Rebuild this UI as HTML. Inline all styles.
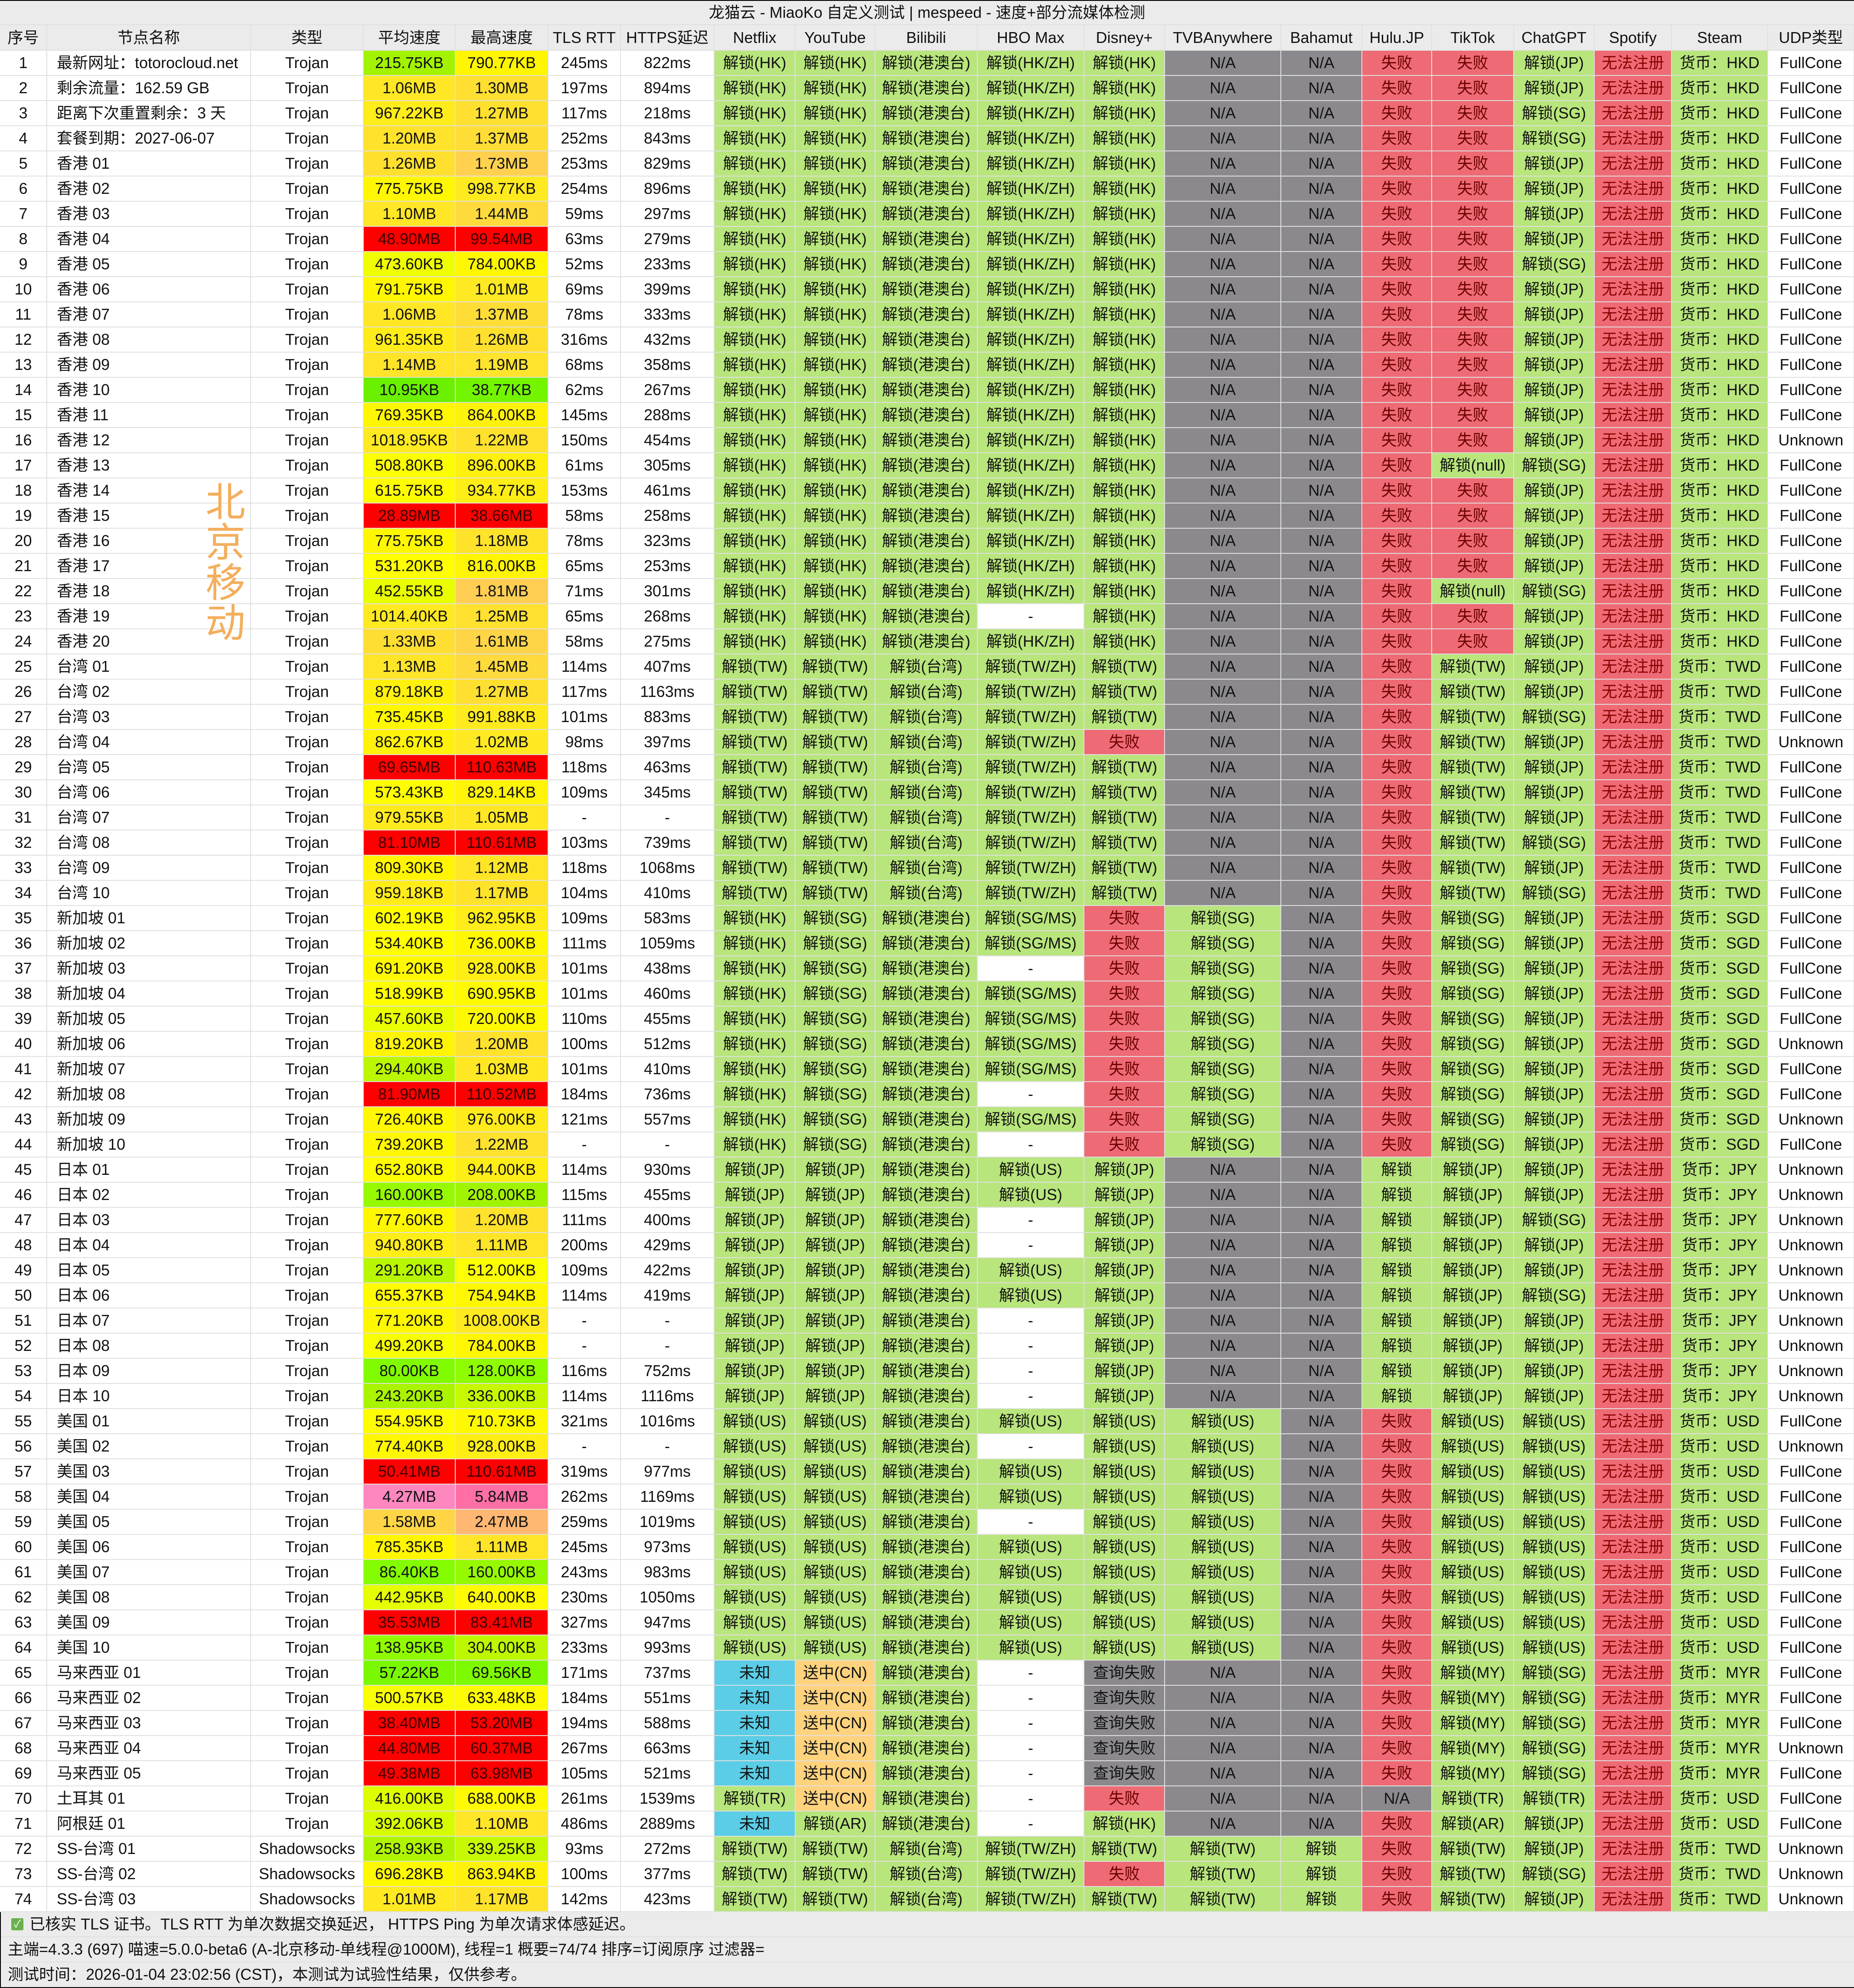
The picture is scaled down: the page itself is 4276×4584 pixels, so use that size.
<!DOCTYPE html>
<html><head><meta charset="utf-8">
<style>
html,body{margin:0;padding:0;}
body{width:4276px;height:4584px;position:relative;overflow:hidden;background:#e0e0e0;font-family:"Liberation Sans","Noto Sans CJK SC",sans-serif;color:#111;}
.c{position:absolute;display:flex;align-items:center;justify-content:center;font-size:36px;line-height:1;white-space:nowrap;overflow:hidden;box-sizing:border-box;}
.l{justify-content:flex-start;padding-left:22px;}
#title,.hdr{background:#ebebeb;}
.foot{position:absolute;left:0;width:4276px;background:#ebebeb;font-size:36px;line-height:1;display:flex;align-items:center;padding-left:18px;box-sizing:border-box;white-space:nowrap;}
#wm{position:absolute;left:474px;top:1104px;width:92px;font-size:92px;line-height:93px;color:#f3ae5c;text-align:center;font-family:"Noto Sans CJK SC",sans-serif;}
</style></head>
<body>
<div id="title" class="c" style="left:0;top:2px;width:4276px;height:54px;">龙猫云 - MiaoKo 自定义测试 | mespeed - 速度+部分流媒体检测</div>
<div id="grid"></div>
<div id="wm">北<br>京<br>移<br>动</div>
<div class="foot" style="top:4409px;height:56px;"><span style="display:inline-block;width:28px;height:28px;background:#6ab04c;border-radius:3px;color:#fff;font-size:24px;line-height:28px;text-align:center;margin:0 14px 0 8px;">✓</span>已核实 TLS 证书。TLS RTT 为单次数据交换延迟， HTTPS Ping 为单次请求体感延迟。</div>
<div class="foot" style="top:4467px;height:56px;">主端=4.3.3 (697) 喵速=5.0.0-beta6 (A-北京移动-单线程@1000M), 线程=1 概要=74/74 排序=订阅原序 过滤器=</div>
<div class="foot" style="top:4525px;height:56px;">测试时间：2026-01-04 23:02:56 (CST)，本测试为试验性结果，仅供参考。</div>
<div style="position:absolute;left:0;top:0;width:4276px;height:2px;background:#000;"></div>
<div style="position:absolute;left:0;top:4582px;width:4276px;height:2px;background:#000;"></div>
<div style="position:absolute;left:0;top:4409px;width:2px;height:175px;background:#000;"></div>
<script>
const headers=["序号","节点名称","类型","平均速度","最高速度","TLS RTT","HTTPS延迟","Netflix","YouTube","Bilibili","HBO Max","Disney+","TVBAnywhere","Bahamut","Hulu.JP","TikTok","ChatGPT","Spotify","Steam","UDP类型"];
const colEdges=[0,108,578,838,1050,1264,1431,1647,1834,2018,2254,2500,2686,2954,3141,3302,3491,3677,3855,4077,4276];
const rows=[
"最新网址：totorocloud.net|T|215.75KB|790.77KB|245ms|822ms|HK|HK|港澳台|HK/ZH|HK|NA|NA|F|F|JP|X|HKD|FullCone",
"剩余流量：162.59 GB|T|1.06MB|1.30MB|197ms|894ms|HK|HK|港澳台|HK/ZH|HK|NA|NA|F|F|JP|X|HKD|FullCone",
"距离下次重置剩余：3 天|T|967.22KB|1.27MB|117ms|218ms|HK|HK|港澳台|HK/ZH|HK|NA|NA|F|F|SG|X|HKD|FullCone",
"套餐到期：2027-06-07|T|1.20MB|1.37MB|252ms|843ms|HK|HK|港澳台|HK/ZH|HK|NA|NA|F|F|SG|X|HKD|FullCone",
"香港 01|T|1.26MB|1.73MB|253ms|829ms|HK|HK|港澳台|HK/ZH|HK|NA|NA|F|F|JP|X|HKD|FullCone",
"香港 02|T|775.75KB|998.77KB|254ms|896ms|HK|HK|港澳台|HK/ZH|HK|NA|NA|F|F|JP|X|HKD|FullCone",
"香港 03|T|1.10MB|1.44MB|59ms|297ms|HK|HK|港澳台|HK/ZH|HK|NA|NA|F|F|JP|X|HKD|FullCone",
"香港 04|T|48.90MB|99.54MB|63ms|279ms|HK|HK|港澳台|HK/ZH|HK|NA|NA|F|F|JP|X|HKD|FullCone",
"香港 05|T|473.60KB|784.00KB|52ms|233ms|HK|HK|港澳台|HK/ZH|HK|NA|NA|F|F|SG|X|HKD|FullCone",
"香港 06|T|791.75KB|1.01MB|69ms|399ms|HK|HK|港澳台|HK/ZH|HK|NA|NA|F|F|JP|X|HKD|FullCone",
"香港 07|T|1.06MB|1.37MB|78ms|333ms|HK|HK|港澳台|HK/ZH|HK|NA|NA|F|F|JP|X|HKD|FullCone",
"香港 08|T|961.35KB|1.26MB|316ms|432ms|HK|HK|港澳台|HK/ZH|HK|NA|NA|F|F|JP|X|HKD|FullCone",
"香港 09|T|1.14MB|1.19MB|68ms|358ms|HK|HK|港澳台|HK/ZH|HK|NA|NA|F|F|JP|X|HKD|FullCone",
"香港 10|T|10.95KB|38.77KB|62ms|267ms|HK|HK|港澳台|HK/ZH|HK|NA|NA|F|F|JP|X|HKD|FullCone",
"香港 11|T|769.35KB|864.00KB|145ms|288ms|HK|HK|港澳台|HK/ZH|HK|NA|NA|F|F|JP|X|HKD|FullCone",
"香港 12|T|1018.95KB|1.22MB|150ms|454ms|HK|HK|港澳台|HK/ZH|HK|NA|NA|F|F|JP|X|HKD|Unknown",
"香港 13|T|508.80KB|896.00KB|61ms|305ms|HK|HK|港澳台|HK/ZH|HK|NA|NA|F|null|SG|X|HKD|FullCone",
"香港 14|T|615.75KB|934.77KB|153ms|461ms|HK|HK|港澳台|HK/ZH|HK|NA|NA|F|F|JP|X|HKD|FullCone",
"香港 15|T|28.89MB|38.66MB|58ms|258ms|HK|HK|港澳台|HK/ZH|HK|NA|NA|F|F|JP|X|HKD|FullCone",
"香港 16|T|775.75KB|1.18MB|78ms|323ms|HK|HK|港澳台|HK/ZH|HK|NA|NA|F|F|JP|X|HKD|FullCone",
"香港 17|T|531.20KB|816.00KB|65ms|253ms|HK|HK|港澳台|HK/ZH|HK|NA|NA|F|F|JP|X|HKD|FullCone",
"香港 18|T|452.55KB|1.81MB|71ms|301ms|HK|HK|港澳台|HK/ZH|HK|NA|NA|F|null|SG|X|HKD|FullCone",
"香港 19|T|1014.40KB|1.25MB|65ms|268ms|HK|HK|港澳台|-|HK|NA|NA|F|F|JP|X|HKD|FullCone",
"香港 20|T|1.33MB|1.61MB|58ms|275ms|HK|HK|港澳台|HK/ZH|HK|NA|NA|F|F|JP|X|HKD|FullCone",
"台湾 01|T|1.13MB|1.45MB|114ms|407ms|TW|TW|台湾|TW/ZH|TW|NA|NA|F|TW|JP|X|TWD|FullCone",
"台湾 02|T|879.18KB|1.27MB|117ms|1163ms|TW|TW|台湾|TW/ZH|TW|NA|NA|F|TW|JP|X|TWD|FullCone",
"台湾 03|T|735.45KB|991.88KB|101ms|883ms|TW|TW|台湾|TW/ZH|TW|NA|NA|F|TW|SG|X|TWD|FullCone",
"台湾 04|T|862.67KB|1.02MB|98ms|397ms|TW|TW|台湾|TW/ZH|F|NA|NA|F|TW|JP|X|TWD|Unknown",
"台湾 05|T|69.65MB|110.63MB|118ms|463ms|TW|TW|台湾|TW/ZH|TW|NA|NA|F|TW|JP|X|TWD|FullCone",
"台湾 06|T|573.43KB|829.14KB|109ms|345ms|TW|TW|台湾|TW/ZH|TW|NA|NA|F|TW|JP|X|TWD|FullCone",
"台湾 07|T|979.55KB|1.05MB|-|-|TW|TW|台湾|TW/ZH|TW|NA|NA|F|TW|JP|X|TWD|FullCone",
"台湾 08|T|81.10MB|110.61MB|103ms|739ms|TW|TW|台湾|TW/ZH|TW|NA|NA|F|TW|SG|X|TWD|FullCone",
"台湾 09|T|809.30KB|1.12MB|118ms|1068ms|TW|TW|台湾|TW/ZH|TW|NA|NA|F|TW|JP|X|TWD|FullCone",
"台湾 10|T|959.18KB|1.17MB|104ms|410ms|TW|TW|台湾|TW/ZH|TW|NA|NA|F|TW|SG|X|TWD|FullCone",
"新加坡 01|T|602.19KB|962.95KB|109ms|583ms|HK|SG|港澳台|SG/MS|F|SG|NA|F|SG|JP|X|SGD|FullCone",
"新加坡 02|T|534.40KB|736.00KB|111ms|1059ms|HK|SG|港澳台|SG/MS|F|SG|NA|F|SG|JP|X|SGD|FullCone",
"新加坡 03|T|691.20KB|928.00KB|101ms|438ms|HK|SG|港澳台|-|F|SG|NA|F|SG|JP|X|SGD|FullCone",
"新加坡 04|T|518.99KB|690.95KB|101ms|460ms|HK|SG|港澳台|SG/MS|F|SG|NA|F|SG|JP|X|SGD|FullCone",
"新加坡 05|T|457.60KB|720.00KB|110ms|455ms|HK|SG|港澳台|SG/MS|F|SG|NA|F|SG|JP|X|SGD|FullCone",
"新加坡 06|T|819.20KB|1.20MB|100ms|512ms|HK|SG|港澳台|SG/MS|F|SG|NA|F|SG|JP|X|SGD|Unknown",
"新加坡 07|T|294.40KB|1.03MB|101ms|410ms|HK|SG|港澳台|SG/MS|F|SG|NA|F|SG|JP|X|SGD|FullCone",
"新加坡 08|T|81.90MB|110.52MB|184ms|736ms|HK|SG|港澳台|-|F|SG|NA|F|SG|JP|X|SGD|FullCone",
"新加坡 09|T|726.40KB|976.00KB|121ms|557ms|HK|SG|港澳台|SG/MS|F|SG|NA|F|SG|JP|X|SGD|Unknown",
"新加坡 10|T|739.20KB|1.22MB|-|-|HK|SG|港澳台|-|F|SG|NA|F|SG|JP|X|SGD|FullCone",
"日本 01|T|652.80KB|944.00KB|114ms|930ms|JP|JP|港澳台|US|JP|NA|NA|OK|JP|JP|X|JPY|Unknown",
"日本 02|T|160.00KB|208.00KB|115ms|455ms|JP|JP|港澳台|US|JP|NA|NA|OK|JP|JP|X|JPY|Unknown",
"日本 03|T|777.60KB|1.20MB|111ms|400ms|JP|JP|港澳台|-|JP|NA|NA|OK|JP|SG|X|JPY|Unknown",
"日本 04|T|940.80KB|1.11MB|200ms|429ms|JP|JP|港澳台|-|JP|NA|NA|OK|JP|JP|X|JPY|Unknown",
"日本 05|T|291.20KB|512.00KB|109ms|422ms|JP|JP|港澳台|US|JP|NA|NA|OK|JP|JP|X|JPY|Unknown",
"日本 06|T|655.37KB|754.94KB|114ms|419ms|JP|JP|港澳台|US|JP|NA|NA|OK|JP|SG|X|JPY|Unknown",
"日本 07|T|771.20KB|1008.00KB|-|-|JP|JP|港澳台|-|JP|NA|NA|OK|JP|JP|X|JPY|Unknown",
"日本 08|T|499.20KB|784.00KB|-|-|JP|JP|港澳台|-|JP|NA|NA|OK|JP|JP|X|JPY|Unknown",
"日本 09|T|80.00KB|128.00KB|116ms|752ms|JP|JP|港澳台|-|JP|NA|NA|OK|JP|JP|X|JPY|Unknown",
"日本 10|T|243.20KB|336.00KB|114ms|1116ms|JP|JP|港澳台|-|JP|NA|NA|OK|JP|JP|X|JPY|Unknown",
"美国 01|T|554.95KB|710.73KB|321ms|1016ms|US|US|港澳台|US|US|US|NA|F|US|US|X|USD|FullCone",
"美国 02|T|774.40KB|928.00KB|-|-|US|US|港澳台|-|US|US|NA|F|US|US|X|USD|Unknown",
"美国 03|T|50.41MB|110.61MB|319ms|977ms|US|US|港澳台|US|US|US|NA|F|US|US|X|USD|FullCone",
"美国 04|T|4.27MB|5.84MB|262ms|1169ms|US|US|港澳台|US|US|US|NA|F|US|US|X|USD|FullCone",
"美国 05|T|1.58MB|2.47MB|259ms|1019ms|US|US|港澳台|-|US|US|NA|F|US|US|X|USD|FullCone",
"美国 06|T|785.35KB|1.11MB|245ms|973ms|US|US|港澳台|US|US|US|NA|F|US|US|X|USD|FullCone",
"美国 07|T|86.40KB|160.00KB|243ms|983ms|US|US|港澳台|US|US|US|NA|F|US|US|X|USD|FullCone",
"美国 08|T|442.95KB|640.00KB|230ms|1050ms|US|US|港澳台|US|US|US|NA|F|US|US|X|USD|FullCone",
"美国 09|T|35.53MB|83.41MB|327ms|947ms|US|US|港澳台|US|US|US|NA|F|US|US|X|USD|FullCone",
"美国 10|T|138.95KB|304.00KB|233ms|993ms|US|US|港澳台|US|US|US|NA|F|US|US|X|USD|FullCone",
"马来西亚 01|T|57.22KB|69.56KB|171ms|737ms|UNK|CN|港澳台|-|QF|NA|NA|F|MY|SG|X|MYR|FullCone",
"马来西亚 02|T|500.57KB|633.48KB|184ms|551ms|UNK|CN|港澳台|-|QF|NA|NA|F|MY|SG|X|MYR|FullCone",
"马来西亚 03|T|38.40MB|53.20MB|194ms|588ms|UNK|CN|港澳台|-|QF|NA|NA|F|MY|SG|X|MYR|FullCone",
"马来西亚 04|T|44.80MB|60.37MB|267ms|663ms|UNK|CN|港澳台|-|QF|NA|NA|F|MY|SG|X|MYR|Unknown",
"马来西亚 05|T|49.38MB|63.98MB|105ms|521ms|UNK|CN|港澳台|-|QF|NA|NA|F|MY|SG|X|MYR|FullCone",
"土耳其 01|T|416.00KB|688.00KB|261ms|1539ms|TR|CN|港澳台|-|F|NA|NA|NA|TR|TR|X|USD|FullCone",
"阿根廷 01|T|392.06KB|1.10MB|486ms|2889ms|UNK|AR|港澳台|-|HK|NA|NA|F|AR|JP|X|USD|FullCone",
"SS-台湾 01|S|258.93KB|339.25KB|93ms|272ms|TW|TW|台湾|TW/ZH|TW|TW|OK|F|TW|JP|X|TWD|Unknown",
"SS-台湾 02|S|696.28KB|863.94KB|100ms|377ms|TW|TW|台湾|TW/ZH|F|TW|OK|F|TW|SG|X|TWD|Unknown",
"SS-台湾 03|S|1.01MB|1.17MB|142ms|423ms|TW|TW|台湾|TW/ZH|TW|TW|OK|F|TW|JP|X|TWD|Unknown"
];
const GREEN='#b8e57c',GREY='#8b898d',RED='#ee6a74',CYAN='#5bcde6',ORANGE='#ffd27e';
const speedStops=[[0,[102,238,0]],[100,[136,255,0]],[220,[164,243,0]],[450,[232,255,0]],[520,[255,255,0]],[800,[255,246,0]],[1000,[255,234,32]],[1300,[255,224,48]],[1600,[255,214,69]],[1800,[255,208,80]],[2500,[255,184,112]],[4300,[255,136,192]],[6000,[255,111,166]],[12000,[255,40,60]],[20000,[255,0,0]]];
function kb(s){const v=parseFloat(s);return s.indexOf('MB')>0?v*1024:v;}
function speedColor(s){const v=kb(s);let a=speedStops[0],b=speedStops[speedStops.length-1];
 if(v>=b[0])return 'rgb('+b[1].join(',')+')';
 for(let i=0;i<speedStops.length-1;i++){if(v>=speedStops[i][0]&&v<speedStops[i+1][0]){a=speedStops[i];b=speedStops[i+1];break;}}
 const t=(v-a[0])/(b[0]-a[0]);return 'rgb('+a[1].map((x,k)=>Math.round(x+(b[1][k]-x)*t)).join(',')+')';}
function media(tok,col){
 if(tok==='NA')return ['N/A',GREY,'#111'];
 if(tok==='F')return ['失败',RED,'#6a0000'];
 if(tok==='X')return ['无法注册',RED,'#8a0000'];
 if(tok==='-')return ['-','#fff','#111'];
 if(tok==='UNK')return ['未知',CYAN,'#111'];
 if(tok==='CN')return ['送中(CN)',ORANGE,'#111'];
 if(tok==='QF')return ['查询失败',GREY,'#111'];
 if(tok==='OK')return ['解锁',GREEN,'#111'];
 if(tok==='null')return ['解锁(null)',GREEN,'#111'];
 if(col===17)return ['货币：'+tok,GREEN,'#111'];
 return ['解锁('+tok+')',GREEN,'#111'];
}
const grid=document.getElementById('grid');
const ROW0=117,RH=58;
function cell(ci,top,h,text,bg,color,cls){
 const d=document.createElement('div');
 d.className='c'+(cls?' '+cls:'');
 d.style.left=(colEdges[ci]+(ci===0?0:1))+'px';
 d.style.width=(colEdges[ci+1]-colEdges[ci]-(ci===0?1:2))+'px';
 d.style.top=top+'px';d.style.height=h+'px';
 d.style.background=bg;d.style.color=color;
 d.textContent=text;grid.appendChild(d);return d;
}
headers.forEach((h,i)=>{
 const d=cell(i,58,57,h,'#ebebeb','#111');
 
 
});
rows.forEach((r,ri)=>{
 const f=r.split('|');const top=ROW0+ri*RH;
 const vals=[String(ri+1),f[0],f[1]==='T'?'Trojan':'Shadowsocks',f[2],f[3],f[4],f[5]];
 vals.forEach((v,ci)=>{
  let bg='#fff';if(ci===3||ci===4)bg=speedColor(v);
  let col='#111';if((ci===3||ci===4)&&kb(v)>=20000)col='#3a0000';
  const d=cell(ci,top,RH-2,v,bg,col,ci===1?'l':'');
  
  
 });
 for(let k=6;k<18;k++){
  const m=media(f[k],k);const ci=k+1;
  const d=cell(ci,top,RH-2,m[0],m[1],m[2]);
  
  
 }
 const u=cell(19,top,RH-2,f[18],'#fff','#111');
 
 
});
</script>
</body></html>
